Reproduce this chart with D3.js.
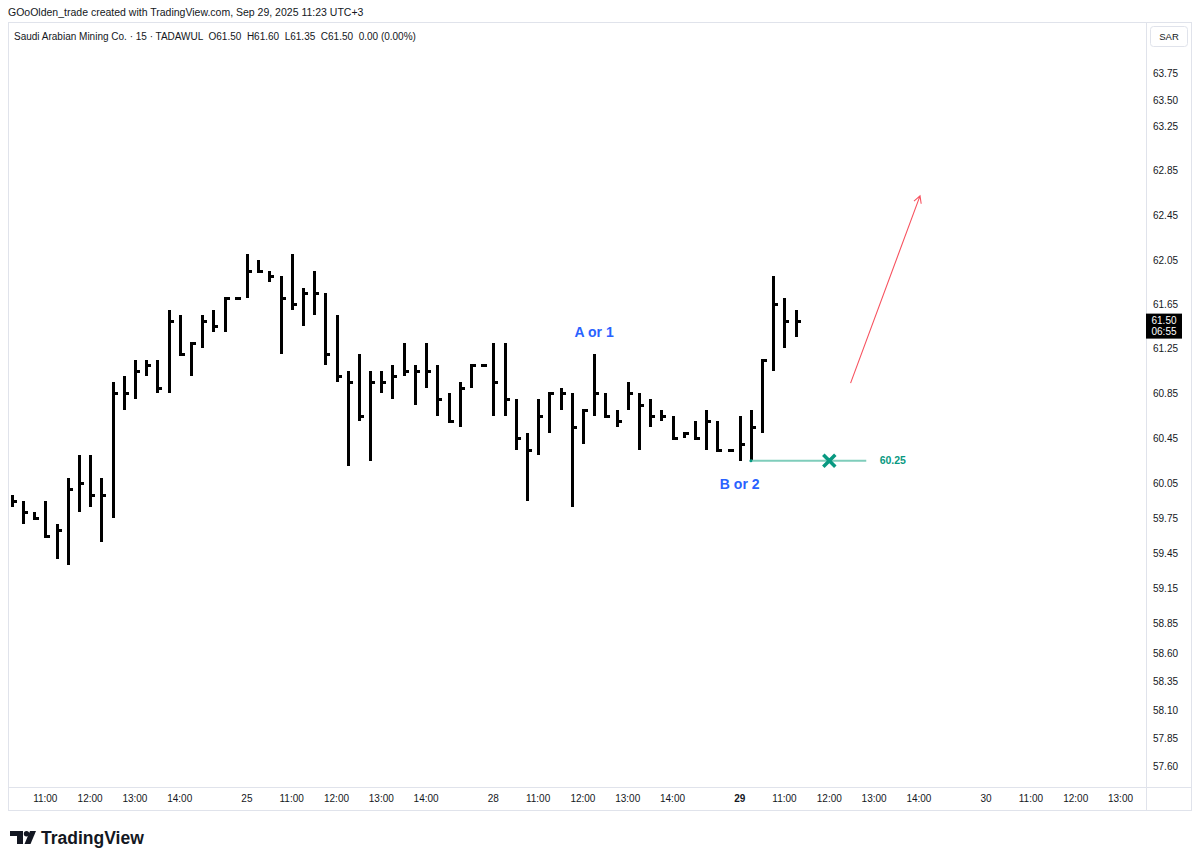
<!DOCTYPE html>
<html>
<head>
<meta charset="utf-8">
<script src="https://cdn.jsdelivr.net/npm/d3@7"></script>
<style>
  body { margin: 0; background: #fff; }
  svg { display: block; }
  text { font-family: "Liberation Sans", Arial, sans-serif; }
</style>
</head>
<body>
<svg id="chart" width="1199" height="862"></svg>
<script>
// ---- data (15 min HLC bars, first bar = Sep 24 10:15) ----
const days = ["24", "25", "28", "29", "30"];
const currentDay = "29";
const hourLabels = ["10:00", "11:00", "12:00", "13:00", "14:00"];
const firstSlot = 1;

const barHigh = [59.95, 59.90, 59.80, 59.90, 59.70, 60.10, 60.30, 60.30, 60.10, 60.95,
  61.00, 61.15, 61.15, 61.15, 61.60, 61.55, 61.30, 61.55, 61.60, 61.70,
  61.70, 62.10, 62.05, 61.95, 61.90, 62.10, 61.80, 61.95, 61.75, 61.55,
  61.05, 61.20, 61.05, 61.05, 61.10, 61.30, 61.10, 61.30, 61.10, 60.85,
  60.95, 61.10, 61.10, 61.30, 61.30, 60.80, 60.50, 60.80, 60.85, 60.90,
  60.85, 60.70, 61.20, 60.85, 60.70, 60.95, 60.85, 60.80, 60.70, 60.65,
  60.50, 60.60, 60.70, 60.60, 60.35, 60.65, 60.70, 61.15, 61.90, 61.70,
  61.60];
const barLow = [59.85, 59.70, 59.75, 59.60, 59.40, 59.35, 59.80, 59.85, 59.55, 59.75,
  60.70, 60.80, 61.00, 60.85, 60.85, 61.20, 61.00, 61.25, 61.40, 61.40,
  61.70, 61.70, 61.95, 61.85, 61.20, 61.60, 61.45, 61.55, 61.10, 60.95,
  60.20, 60.60, 60.25, 60.85, 60.80, 61.00, 60.75, 60.90, 60.65, 60.60,
  60.55, 60.90, 61.10, 60.65, 60.65, 60.35, 59.90, 60.30, 60.50, 60.70,
  59.85, 60.40, 60.65, 60.65, 60.55, 60.70, 60.35, 60.55, 60.60, 60.45,
  60.45, 60.45, 60.35, 60.35, 60.35, 60.25, 60.25, 60.50, 61.05, 61.25,
  61.35];
const barClose = [59.90, 59.80, 59.75, 59.60, 59.65, 60.00, 60.05, 59.95, 59.95, 60.85,
  60.85, 61.05, 61.10, 60.90, 61.50, 61.20, 61.30, 61.50, 61.45, 61.70,
  61.70, 61.95, 61.95, 61.90, 61.70, 61.65, 61.75, 61.75, 61.20, 61.00,
  60.95, 60.65, 60.95, 60.95, 61.00, 61.05, 61.05, 61.05, 60.80, 60.60,
  60.90, 61.10, 61.10, 60.95, 60.80, 60.45, 60.35, 60.65, 60.85, 60.85,
  60.55, 60.70, 60.85, 60.65, 60.60, 60.85, 60.75, 60.65, 60.65, 60.45,
  60.50, 60.45, 60.60, 60.35, 60.35, 60.40, 60.55, 61.15, 61.65, 61.50,
  61.50];

const priceTicks = [63.75, 63.50, 63.25, 62.85, 62.45, 62.05, 61.65, 61.25, 60.85, 60.45,
  60.05, 59.75, 59.45, 59.15, 58.85, 58.60, 58.35, 58.10, 57.85, 57.60];

// annotations
const waveText = ["A or 1", "B or 2"];
const waveSlot = [53, 66];
const wavePrice = [61.35, 60.00];
const stopPrice = 60.25;
const stopSlots = [67, 77.3];
const stopMarkSlot = 74;
const stopLabelSlot = 78.5;
const arrowSlots = [75.9, 82.1];
const arrowPrices = [60.94, 62.62];

// ---- layout ----
const W = 1199, H = 862;
const frame = { left: 8, top: 22, right: 1191, bottom: 810 };
const axisX = 1146, timeTop = 787;
const slotsPerDay = 22;
const totalSlots = days.length * slotsPerDay;
// tradingview price axis spacing is a little uneven, so the scale follows its tick marks
const tickY = [73.3, 100, 126.7, 170, 215, 260, 304, 348.3, 393.3, 438.3,
  483.3, 518.3, 553.3, 588.3, 623.3, 653.3, 681.7, 710, 738.3, 766.7];

const x = d3.scaleLinear().domain([0, totalSlots]).range([0.5, 0.5 + totalSlots * 11.2]);
const y = d3.scaleLinear().domain(priceTicks).range(tickY);

const ink = "#131722", grid = "#e0e3eb";
const svg = d3.select("#chart");

svg.append("rect").attr("width", W).attr("height", H).attr("fill", "#fff");

// header
svg.append("text").attr("x", 8).attr("y", 16)
  .attr("font-size", 10.5).attr("fill", ink)
  .text("GOoOlden_trade created with TradingView.com, Sep 29, 2025 11:23 UTC+3");

// frame
svg.append("rect")
  .attr("x", frame.left + 0.5).attr("y", frame.top + 0.5)
  .attr("width", frame.right - frame.left).attr("height", frame.bottom - frame.top)
  .attr("fill", "none").attr("stroke", grid);
svg.append("line").attr("x1", axisX + 0.5).attr("x2", axisX + 0.5)
  .attr("y1", frame.top).attr("y2", frame.bottom).attr("stroke", grid);
svg.append("line").attr("x1", frame.left).attr("x2", frame.right)
  .attr("y1", timeTop + 0.5).attr("y2", timeTop + 0.5).attr("stroke", grid);

svg.append("text").attr("x", 14).attr("y", 40)
  .attr("font-size", 10).attr("fill", ink).attr("xml:space", "preserve")
  .text("Saudi Arabian Mining Co. \u00b7 15 \u00b7 TADAWUL  O61.50  H61.60  L61.35  C61.50  0.00 (0.00%)");

// SAR box
svg.append("rect").attr("x", 1150.5).attr("y", 26.5).attr("width", 37).attr("height", 20)
  .attr("rx", 3).attr("fill", "#fff").attr("stroke", grid);
svg.append("text").attr("x", 1169).attr("y", 40).attr("text-anchor", "middle")
  .attr("font-size", 9.5).attr("fill", ink).text("SAR");

// price axis labels
svg.append("g").selectAll("text").data(priceTicks).join("text")
  .attr("x", 1153).attr("y", d => y(d)).attr("dy", "0.35em")
  .attr("font-size", 10).attr("fill", ink)
  .text(d => d.toFixed(2));

// time axis labels
const timeTicks = [];
days.forEach((d, k) => {
  hourLabels.forEach((h, j) => {
    const s = k * slotsPerDay + j * 4;
    timeTicks.push({ slot: s, label: j == 0 ? d : h, bold: j == 0 && d == currentDay });
  });
});
svg.append("g").selectAll("text")
  .data(timeTicks.filter(t => x(t.slot) > 20 && x(t.slot) < axisX - 15))
  .join("text")
  .attr("x", d => x(d.slot)).attr("y", 802).attr("text-anchor", "middle")
  .attr("font-size", 10).attr("fill", ink)
  .attr("font-weight", d => d.bold ? "bold" : "normal")
  .text(d => d.label);

// bars
svg.append("clipPath").attr("id", "plot")
  .append("rect").attr("x", frame.left + 1).attr("y", frame.top + 1)
  .attr("width", axisX - frame.left - 1).attr("height", timeTop - frame.top - 1);
const plot = svg.append("g").attr("clip-path", "url(#plot)");

const bars = barHigh.map((h, i) => ({ slot: firstSlot + i, high: h, low: barLow[i], close: barClose[i] }));
const barG = plot.append("g").attr("fill", "#000").attr("shape-rendering", "crispEdges");
barG.selectAll(".hl").data(bars).join("rect").attr("class", "hl")
  .attr("x", d => Math.round(x(d.slot)) - 1).attr("width", 3)
  .attr("y", d => Math.round(y(d.high)))
  .attr("height", d => Math.max(0, Math.round(y(d.low)) - Math.round(y(d.high))));
barG.selectAll(".cl").data(bars).join("rect").attr("class", "cl")
  .attr("x", d => Math.round(x(d.slot)) - 1).attr("width", 6)
  .attr("y", d => Math.round(y(d.close)) - 1).attr("height", 2.5);

// wave labels
plot.selectAll(".wave").data(waveText).join("text").attr("class", "wave")
  .attr("x", (d, i) => x(waveSlot[i])).attr("y", (d, i) => y(wavePrice[i]))
  .attr("text-anchor", "middle").attr("font-size", 14).attr("font-weight", "bold")
  .attr("fill", "#2962ff").text(d => d);

// stop level
const teal = "#089981";
plot.append("line")
  .attr("x1", x(stopSlots[0])).attr("x2", x(stopSlots[1]))
  .attr("y1", y(stopPrice)).attr("y2", y(stopPrice))
  .attr("stroke", "#7fcdbb").attr("stroke-width", 2);
plot.append("circle").attr("cx", x(stopSlots[0])).attr("cy", y(stopPrice)).attr("r", 1.5).attr("fill", teal);
const mx = x(stopMarkSlot), my = y(stopPrice), ms = 6;
plot.append("path")
  .attr("d", `M${mx - ms},${my - ms}L${mx + ms},${my + ms}M${mx - ms},${my + ms}L${mx + ms},${my - ms}`)
  .attr("stroke", teal).attr("stroke-width", 3.5);
plot.append("text").attr("x", x(stopLabelSlot)).attr("y", y(stopPrice)).attr("dy", "0.35em")
  .attr("font-size", 10.5).attr("font-weight", "bold").attr("fill", teal)
  .text(stopPrice.toFixed(2));

// target arrow
const ax1 = x(arrowSlots[0]), ay1 = y(arrowPrices[0]);
const ax2 = x(arrowSlots[1]), ay2 = y(arrowPrices[1]);
const ang = Math.atan2(ay2 - ay1, ax2 - ax1), hl = 8;
const head = [ang + Math.PI - 0.5, ang + Math.PI + 0.5]
  .map(a => [ax2 + hl * Math.cos(a), ay2 + hl * Math.sin(a)]);
plot.append("path")
  .attr("d", `M${ax1},${ay1}L${ax2},${ay2}M${head[0]}L${ax2},${ay2}L${head[1]}`)
  .attr("fill", "none").attr("stroke", "#f7525f").attr("stroke-width", 1.1);

// last price tag
const last = bars[bars.length - 1];
svg.append("rect").attr("x", axisX).attr("y", y(last.close) - 7).attr("width", 36).attr("height", 25)
  .attr("fill", "#000");
svg.append("text").attr("x", 1164).attr("y", y(last.close)).attr("dy", "0.35em")
  .attr("text-anchor", "middle").attr("font-size", 10).attr("fill", "#fff")
  .text(last.close.toFixed(2));
svg.append("text").attr("x", 1164).attr("y", y(last.close) + 11).attr("dy", "0.35em")
  .attr("text-anchor", "middle").attr("font-size", 10).attr("fill", "#fff")
  .text("06:55");

// logo
const logo = svg.append("g").attr("fill", ink);
logo.append("path").attr("d", "M10,831h13v13h-6v-8h-7z");
logo.append("circle").attr("cx", 26.5).attr("cy", 833.7).attr("r", 2.7);
logo.append("path").attr("d", "M30,831h6l-5.5,13h-6z");
svg.append("text").attr("x", 41).attr("y", 844)
  .attr("font-family", "Inter, sans-serif").attr("font-size", 17.5).attr("font-weight", 600)
  .attr("fill", ink).text("TradingView");
</script>
</body>
</html>
